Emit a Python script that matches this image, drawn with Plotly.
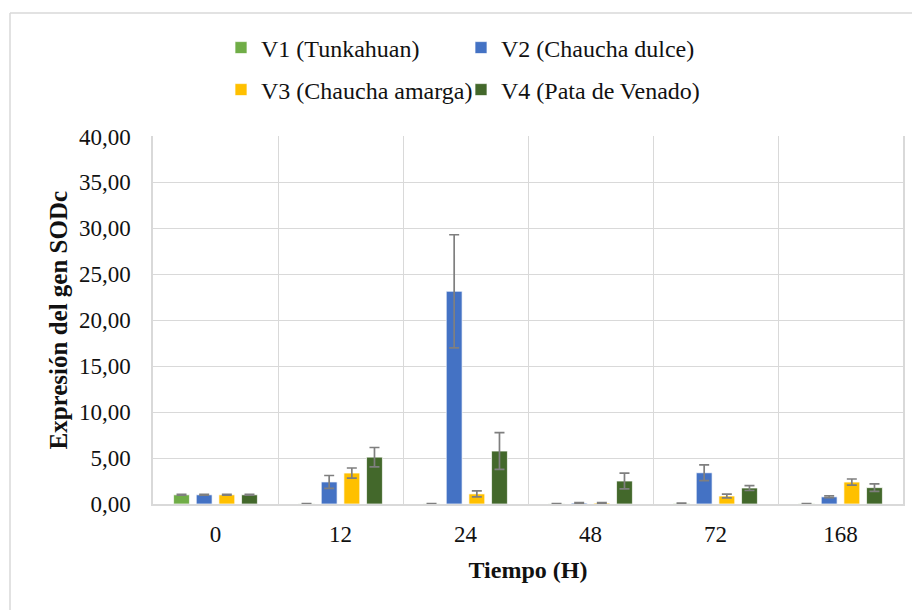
import plotly.graph_objects as go

categories = ["0", "12", "24", "48", "72", "168"]
names = ["V1 (Tunkahuan)", "V2 (Chaucha dulce)", "V3 (Chaucha amarga)", "V4 (Pata de Venado)"]

v1 = [1.00, 0.02, 0.02, 0.02, 0.06, 0.03]
v1_err = [0.05, 0.01, 0.01, 0.01, 0.04, 0.01]
v2 = [1.00, 2.40, 23.15, 0.10, 3.40, 0.78]
v2_err = [0.05, 0.70, 6.15, 0.05, 0.85, 0.10]
v3 = [1.00, 3.37, 1.10, 0.10, 0.87, 2.39]
v3_err = [0.05, 0.55, 0.32, 0.05, 0.20, 0.33]
v4 = [1.00, 5.10, 5.76, 2.50, 1.74, 1.78]
v4_err = [0.05, 1.05, 2.00, 0.85, 0.27, 0.40]

colors = ["#70AD47", "#4472C4", "#FFC000", "#43682B"]
values = [v1, v2, v3, v4]
errors = [v1_err, v2_err, v3_err, v4_err]
legend_ids = ["legend", "legend2", "legend3", "legend4"]

FONT = "Liberation Serif"
TXT = "#111111"
OFF = 8  # default page body margin
W, H = 920 - OFF, 610 - OFF

fig = go.Figure()
for name, vals, err, col, lg in zip(names, values, errors, colors, legend_ids):
    fig.add_trace(go.Bar(
        x=categories, y=vals, name=name,
        marker=dict(color=col, line=dict(color="rgba(255,255,255,0.7)", width=1)),
        error_y=dict(type="data", array=err, visible=True, color="#7f7f7f",
                     thickness=1.7, width=5),
        legend=lg, showlegend=True,
    ))

def leg(xpx, ypx):
    return dict(xref="container", yref="container", x=(xpx - OFF) / W, y=1 - (ypx - OFF) / H,
                xanchor="left", yanchor="middle", orientation="h",
                bgcolor="rgba(0,0,0,0)", font=dict(family=FONT, size=24, color=TXT))

fig.update_layout(
    width=W, height=H,
    margin=dict(l=153 - OFF, r=17, t=135 - OFF, b=106),
    paper_bgcolor="white", plot_bgcolor="white",
    font=dict(family=FONT, size=23, color=TXT),
    showlegend=True,
    barmode="group", bargap=0.275, bargroupgap=0.3,
    separators=", ",
    legend=leg(221, 48),
    legend2=leg(461, 48),
    legend3=leg(221, 90),
    legend4=leg(461, 90),
    xaxis=dict(
        type="category", tickson="boundaries", showgrid=True,
        gridcolor="#d9d9d9", gridwidth=1.3,
        showline=True, linecolor="#d9d9d9", linewidth=1.5,
        ticks="", ticklabelstandoff=9,
        tickfont=dict(family=FONT, size=23, color=TXT),
        title=dict(text="<b>Tiempo (H)</b>", standoff=15,
                   font=dict(family=FONT, size=24, color=TXT)),
    ),
    yaxis=dict(
        range=[0, 40], dtick=5, tick0=0, tickformat=".2f",
        showgrid=True, gridcolor="#d9d9d9", gridwidth=1.3,
        zeroline=False, showline=True, linecolor="#d9d9d9", linewidth=1.5,
        mirror=True, ticks="", ticklabelstandoff=16,
        tickfont=dict(family=FONT, size=23, color=TXT),
        title=dict(text="<b>Expresión del gen SODc</b>", standoff=4,
                   font=dict(family=FONT, size=25, color=TXT)),
    ),
)

# outer chart frame (left and top edges visible in the crop)
pw, ph = 750.0, 369.0
x_left = (10 - 153) / pw
y_top = (504 - 11) / ph
fig.add_shape(type="line", xref="paper", yref="paper",
              x0=x_left, x1=x_left, y0=-1.0, y1=y_top,
              line=dict(color="#d9d9d9", width=1.5))
fig.add_shape(type="line", xref="paper", yref="paper",
              x0=x_left, x1=1.2, y0=y_top, y1=y_top,
              line=dict(color="#d9d9d9", width=1.5))

fig.write_html("out.html")
